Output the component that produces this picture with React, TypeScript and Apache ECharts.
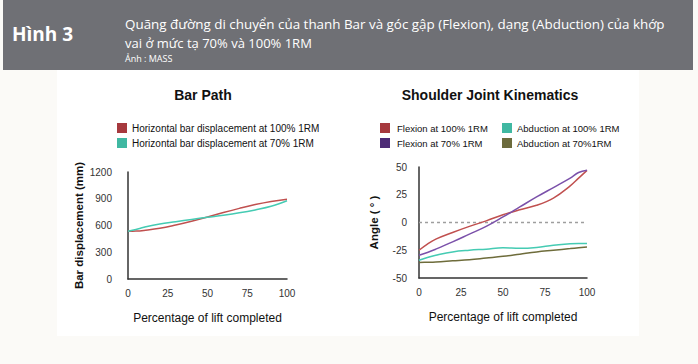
import React, { useEffect, useRef } from "react";
import * as echarts from "echarts";

// ---- Data ----
const barPct = [0, 5, 10, 20, 30, 40, 50, 60, 70, 80, 90, 100];
const bar100 = [535, 537, 545, 568, 605, 648, 695, 745, 792, 835, 870, 895];
const bar70 = [535, 555, 580, 618, 643, 668, 692, 715, 742, 775, 815, 878];

const angPct = [0, 5, 10, 20, 30, 40, 50, 60, 70, 80, 90, 95, 100];
const flex100 = [-25, -19.5, -15, -9, -3.5, 1.5, 7, 11.5, 15.5, 22, 33, 40, 47];
const flex70 = [-29.5, -27, -24, -17.5, -10.5, -3.5, 5, 14, 23, 31.5, 40, 45, 47];
const abd100 = [-34, -31.5, -29.5, -26.5, -25, -24, -22.8, -23.3, -22.5, -20.5, -19.2, -19, -19];
const abd70 = [-36, -35.8, -35.5, -34.5, -33.5, -32, -30.5, -28.5, -26.5, -25, -23.5, -22.7, -22];

const zeroLine = [[0, 0], [100, 0]];

const xTicks = [0, 25, 50, 75, 100];
const barTicks = [0, 300, 600, 900, 1200];
const angTicks = [-50, -25, 0, 25, 50];

const barNames = [
  "Horizontal bar displacement at 100% 1RM",
  "Horizontal bar displacement at 70% 1RM",
];
const angNames = [
  "Flexion at 100% 1RM",
  "Flexion at 70% 1RM",
  "Abduction at 100% 1RM",
  "Abduction at 70%1RM",
];

const headerTitle = "Hình 3";
const headerLine1 =
  "Quãng đường di chuyển của thanh Bar và góc gập (Flexion), dạng (Abduction) của khớp";
const headerLine2 = "vai ở mức tạ 70% và 100% 1RM";
const headerCredit = "Ảnh : MASS";

const pairs = (xs: number[], ys: number[]) => xs.map((x, i) => [x, ys[i]]);

const FONT = "Liberation Sans";

export default function App() {
  const ref = useRef<HTMLDivElement>(null);
  useEffect(() => {
    if (!ref.current) return;
    const chart = echarts.init(ref.current, undefined, { renderer: "svg" });

    const axisLine = { show: true, onZero: false, lineStyle: { color: "#333", width: 1.5 } };
    const axisLabel = { color: "#333", fontSize: 10, fontFamily: FONT, formatter: (v: number) => String(v) };
    const xAxisCommon = {
      type: "value" as const,
      min: xTicks[0],
      max: xTicks[xTicks.length - 1],
      interval: xTicks[1] - xTicks[0],
      axisLine,
      axisTick: { show: false },
      splitLine: { show: false },
      axisLabel: { ...axisLabel, margin: 9 },
      name: "Percentage of lift completed",
      nameLocation: "middle" as const,
      nameGap: 33,
      nameTextStyle: { color: "#111", fontSize: 12, fontFamily: FONT },
    };

    const lineSeries = (
      name: string,
      data: number[][],
      lineColor: string,
      iconColor: string,
      xi: number,
      extra: any = {}
    ) => ({
      type: "line",
      name,
      data,
      xAxisIndex: xi,
      yAxisIndex: xi,
      smooth: 0.4,
      showSymbol: false,
      symbol: "none",
      itemStyle: { color: iconColor },
      lineStyle: { color: lineColor, width: 1.5 },
      ...extra,
    });

    const option: any = {
      animation: false,
      textStyle: { fontFamily: FONT },
      graphic: [
        { type: "rect", z: -10, shape: { x: 0, y: 0, width: 698, height: 364 }, style: { fill: "#fbfaf7" } },
        { type: "rect", z: -9, shape: { x: 3, y: 0, width: 690, height: 70 }, style: { fill: "#6f7075" } },
        { type: "rect", z: -9, shape: { x: 57, y: 70, width: 582, height: 266 }, style: { fill: "#ffffff" } },
        {
          type: "text", x: 12, y: 34,
          style: { text: headerTitle, font: 'bold 19px "Open Sans"', fill: "#ffffff", verticalAlign: "middle" },
        },
        {
          type: "text", x: 125, y: 24,
          style: { text: headerLine1, font: '13.4px "Open Sans"', fill: "#ffffff", verticalAlign: "middle" },
        },
        {
          type: "text", x: 125, y: 43,
          style: { text: headerLine2, font: '13px "Open Sans"', fill: "#ffffff", verticalAlign: "middle" },
        },
        {
          type: "text", x: 125, y: 58,
          style: { text: headerCredit, font: '9px "Open Sans"', fill: "#ffffff", verticalAlign: "middle" },
        },
        {
          type: "text", x: 203, y: 95,
          style: { text: "Bar Path", font: `bold 14px "${FONT}"`, fill: "#111", align: "center", verticalAlign: "middle" },
        },
        {
          type: "text", x: 490, y: 95,
          style: { text: "Shoulder Joint Kinematics", font: `bold 14px "${FONT}"`, fill: "#111", align: "center", verticalAlign: "middle" },
        },
      ],
      legend: [
        {
          data: barNames, orient: "vertical", left: 112, top: 118, itemGap: 5,
          itemWidth: 10, itemHeight: 10, icon: "rect",
          textStyle: { fontSize: 10, color: "#111", fontFamily: FONT },
        },
        {
          data: [angNames[0], angNames[1]], orient: "vertical", left: 375, top: 118, itemGap: 5,
          itemWidth: 10, itemHeight: 10, icon: "rect",
          textStyle: { fontSize: 9.5, color: "#111", fontFamily: FONT, padding: [0, 0, 0, 2] },
        },
        {
          data: [angNames[2], angNames[3]], orient: "vertical", left: 497, top: 118, itemGap: 5,
          itemWidth: 10, itemHeight: 10, icon: "rect",
          textStyle: { fontSize: 9.5, color: "#111", fontFamily: FONT },
        },
      ],
      grid: [
        { left: 128, top: 172, width: 159, height: 107 },
        { left: 419, top: 167, width: 168, height: 111 },
      ],
      xAxis: [
        { ...xAxisCommon, gridIndex: 0 },
        { ...xAxisCommon, gridIndex: 1 },
      ],
      yAxis: [
        {
          type: "value", gridIndex: 0,
          min: barTicks[0], max: barTicks[barTicks.length - 1], interval: barTicks[1] - barTicks[0],
          axisLine, axisTick: { show: false }, splitLine: { show: false },
          axisLabel: { ...axisLabel, margin: 16 },
          name: "Bar displacement (mm)", nameLocation: "middle", nameGap: 43,
          nameTextStyle: { color: "#111", fontSize: 11.5, fontWeight: "bold", fontFamily: FONT },
        },
        {
          type: "value", gridIndex: 1,
          min: angTicks[0], max: angTicks[angTicks.length - 1], interval: angTicks[1] - angTicks[0],
          axisLine, axisTick: { show: false }, splitLine: { show: false },
          axisLabel: { ...axisLabel, margin: 12 },
          name: "Angle ( ° )", nameLocation: "middle", nameGap: 39,
          nameTextStyle: { color: "#111", fontSize: 11.5, fontWeight: "bold", fontFamily: FONT },
        },
      ],
      series: [
        {
          type: "line",
          name: "zero",
          data: zeroLine,
          xAxisIndex: 1,
          yAxisIndex: 1,
          showSymbol: false,
          symbol: "none",
          silent: true,
          z: 1,
          lineStyle: { color: "#9e9e9e", type: [3, 3], width: 1.5 },
          itemStyle: { color: "#9e9e9e" },
        },
        lineSeries(barNames[0], pairs(barPct, bar100), "#c0504f", "#a6393e", 0),
        lineSeries(barNames[1], pairs(barPct, bar70), "#45cbb3", "#40b8a2", 0),
        lineSeries(angNames[0], pairs(angPct, flex100), "#c0504f", "#a6393e", 1),
        lineSeries(angNames[1], pairs(angPct, flex70), "#7b51aa", "#4d2b76", 1),
        lineSeries(angNames[2], pairs(angPct, abd100), "#45cbb3", "#40b8a2", 1),
        lineSeries(angNames[3], pairs(angPct, abd70), "#6e6c3b", "#6c6b3d", 1),
      ],
    };
    chart.setOption(option);
    return () => chart.dispose();
  }, []);
  return (
    <div
      ref={ref}
      style={{ position: "absolute", left: 0, top: 0, width: 698, height: 364 }}
    />
  );
}
